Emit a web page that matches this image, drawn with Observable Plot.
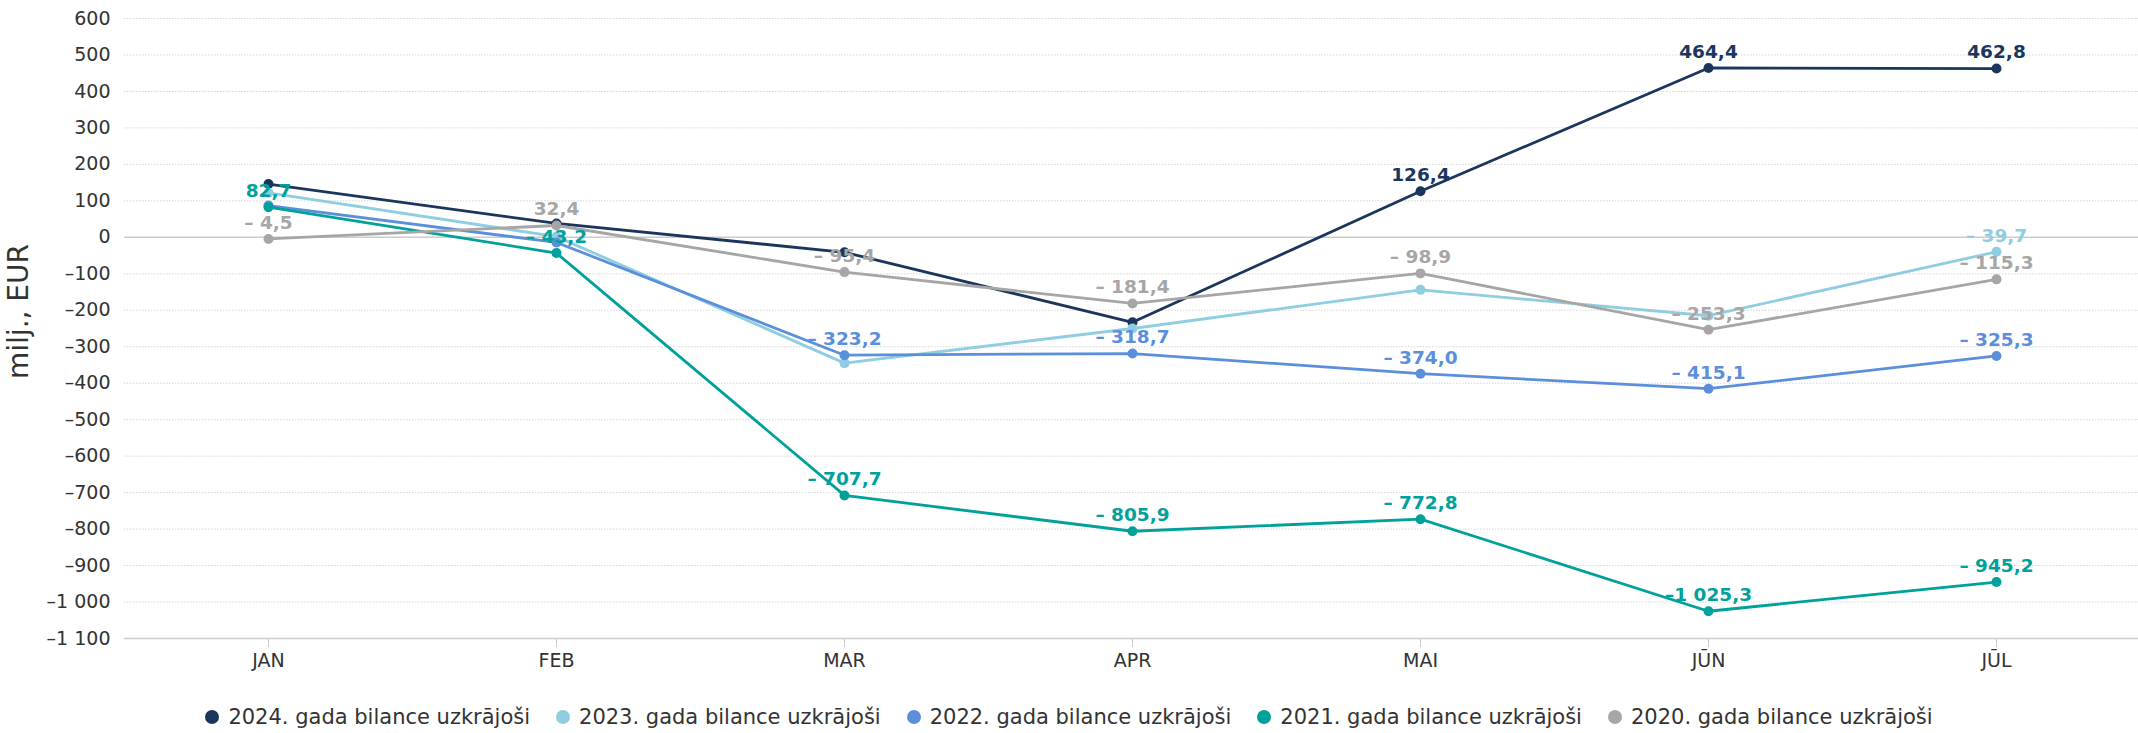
<!DOCTYPE html>
<html>
<head>
<meta charset="utf-8">
<script src="https://cdn.jsdelivr.net/npm/d3@7"></script>
<script src="https://cdn.jsdelivr.net/npm/@observablehq/plot@0.6"></script>
<style>
  html, body { margin: 0; padding: 0; background: #fff; }
  body { width: 2138px; font-family: "DejaVu Sans", sans-serif; }
  #legend { display: flex; justify-content: center; align-items: center; margin-top: 15px; font-size: 21px; color: #333; }
  #legend .item { display: flex; align-items: center; margin: 0 13px; }
  #legend .sw { width: 14px; height: 14px; border-radius: 50%; margin-right: 9px; }
</style>
</head>
<body>
<div id="chart"></div>
<div id="legend"></div>
<script>
const months = ["JAN", "FEB", "MAR", "APR", "MAI", "JŪN", "JŪL"];
const seriesNames = [
  "2024. gada bilance uzkrājoši",
  "2023. gada bilance uzkrājoši",
  "2022. gada bilance uzkrājoši",
  "2021. gada bilance uzkrājoši",
  "2020. gada bilance uzkrājoši"
];
const seriesColors = ["#1b365d", "#8fcde0", "#5b8fdb", "#00a19a", "#a6a6a6"];
const v2024 = [146, 38, -41, -233, 126.4, 464.4, 462.8];
const v2023 = [122, 2, -345, -250, -144, -215, -39.7];
const v2022 = [87, -14, -323.2, -318.7, -374.0, -415.1, -325.3];
const v2021 = [82.7, -43.2, -707.7, -805.9, -772.8, -1025.3, -945.2];
const v2020 = [-4.5, 32.4, -95.4, -181.4, -98.9, -253.3, -115.3];
// which data labels are visible in the reference
const lab2024 = [0, 0, 0, 0, 1, 1, 1];
const lab2023 = [0, 0, 0, 0, 0, 0, 1];
const lab2022 = [0, 0, 1, 1, 1, 1, 1];
const lab2021 = [1, 1, 1, 1, 1, 1, 1];
const lab2020 = [1, 1, 1, 1, 1, 1, 1];
const yTicks = d3.range(-1100, 601, 100);

const allValues = [v2024, v2023, v2022, v2021, v2020];
const allLabels = [lab2024, lab2023, lab2022, lab2021, lab2020];

const data = [];
seriesNames.forEach((s, i) => {
  months.forEach((m, j) => {
    data.push({series: s, month: m, value: allValues[i][j], show: allLabels[i][j] === 1, order: i});
  });
});

function groupThousands(str) {
  return str.replace(/\B(?=(\d{3})+(?!\d))/g, "\u00a0");
}
function fmtLabel(v) {
  const a = Math.abs(v).toFixed(1).split(".");
  const s = groupThousands(a[0]) + "," + a[1];
  if (v < 0) return (Math.abs(v) >= 1000 ? "\u2013" : "\u2013 ") + s;
  return s;
}
function fmtTick(v) {
  const s = groupThousands(String(Math.abs(v)));
  return v < 0 ? "\u2013" + s : s;
}

const color = {domain: seriesNames, range: seriesColors};

const plot = Plot.plot({
  width: 2138,
  height: 690,
  marginLeft: 124,
  marginRight: -2,
  marginTop: 18,
  marginBottom: 52,
  style: {fontFamily: "DejaVu Sans, sans-serif", background: "#fff", overflow: "visible"},
  x: {type: "point", domain: months, padding: 0.5, label: null},
  y: {domain: [-1100, 600], label: null},
  color: color,
  marks: [
    Plot.ruleY(yTicks.filter(d => d !== 0 && d !== -1100), {stroke: "#d6d6d6", strokeWidth: 1, strokeDasharray: "1.5,1.5"}),
    Plot.ruleY([0], {stroke: "#cccccc", strokeWidth: 1.5}),
    Plot.ruleY([-1100], {stroke: "#cccccc", strokeWidth: 1.5}),
    Plot.axisY({ticks: yTicks, tickSize: 0, tickPadding: 14, tickFormat: fmtTick, fontSize: 19, fill: "#333", label: null}),
    Plot.axisX({tickSize: 9, tickPadding: 6, stroke: "#cccccc", fill: "#333", fontSize: 19, label: null}),
    Plot.text(["milj., EUR"], {frameAnchor: "left", textAnchor: "middle", dx: -105, dy: -17, rotate: -90, fontSize: 28, fill: "#333"}),
    Plot.line(data, {x: "month", y: "value", z: "series", stroke: "series", strokeWidth: 2.8}),
    Plot.dot(data, {x: "month", y: "value", fill: "series", r: 5}),
    Plot.text(data.filter(d => d.show), {
      x: "month", y: "value", text: d => fmtLabel(d.value), fill: "series",
      dy: -16, fontSize: 18.5, fontWeight: "bold"
    })
  ]
});
document.getElementById("chart").appendChild(plot);

const legend = document.getElementById("legend");
seriesNames.forEach((s, i) => {
  const item = document.createElement("div");
  item.className = "item";
  const sw = document.createElement("span");
  sw.className = "sw";
  sw.style.background = seriesColors[i];
  const t = document.createElement("span");
  t.textContent = s;
  item.appendChild(sw);
  item.appendChild(t);
  legend.appendChild(item);
});
</script>
</body>
</html>
